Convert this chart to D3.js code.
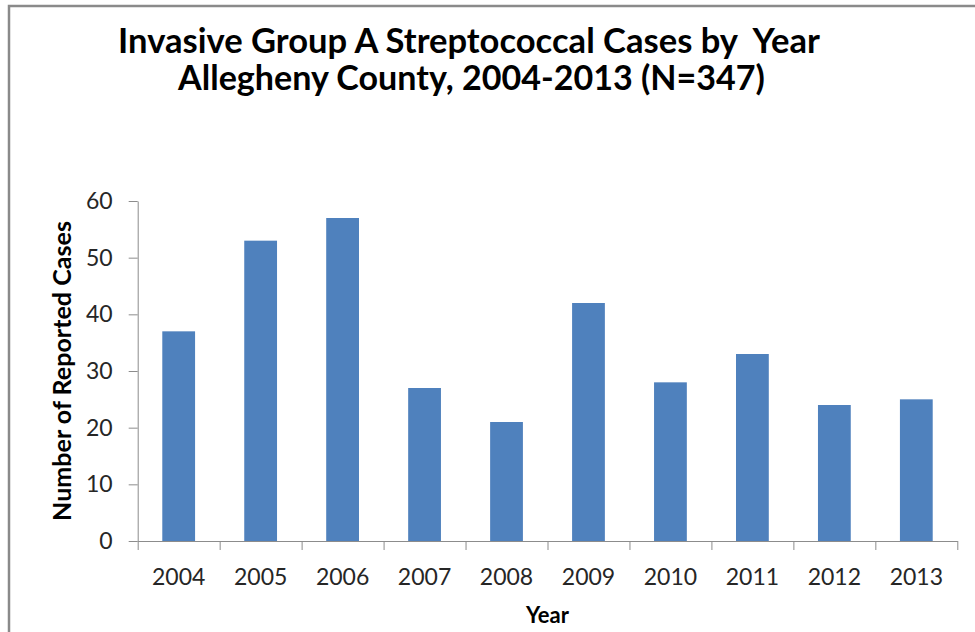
<!DOCTYPE html>
<html>
<head>
<meta charset="utf-8">
<script src="https://cdn.jsdelivr.net/npm/d3@7"></script>
<style>
  html, body { margin: 0; padding: 0; background: #fff; }
  svg { display: block; }
  text { font-family: Lato, "Open Sans", sans-serif; }
</style>
</head>
<body>
<svg id="chart" width="975" height="632"></svg>
<script>
const years = ["2004","2005","2006","2007","2008","2009","2010","2011","2012","2013"];
const cases = [37, 53, 57, 27, 21, 42, 28, 33, 24, 25];
const yTicks = [0, 10, 20, 30, 40, 50, 60];
const titleLines = ["Invasive Group A Streptococcal Cases by  Year", "Allegheny County, 2004-2013 (N=347)"];
const xTitle = "Year";
const yTitle = "Number of Reported Cases";

const svg = d3.select("#chart");
const W = 975, H = 632;
const margin = { left: 137.7, right: W - 957.3, top: 201, bottom: H - 541 };

svg.append("rect").attr("width", W).attr("height", H).attr("fill", "#fff");
// chart border
svg.append("rect")
  .attr("x", 9).attr("y", 6).attr("width", 1100).attr("height", 800)
  .attr("fill", "none").attr("stroke", "#8a8a8a").attr("stroke-width", 2.5);

const x0 = margin.left, x1 = W - margin.right;
const yTop = margin.top, yBot = H - margin.bottom;

const x = d3.scaleBand().domain(years).range([x0, x1]).paddingInner(0.6).paddingOuter(0.3);
const xEdges = d3.scaleLinear().domain([0, years.length]).range([x0, x1]);
const y = d3.scaleLinear().domain([0, 60]).range([yBot, yTop]);

// bars
svg.append("g").selectAll("rect").data(years).join("rect")
  .attr("x", d => x(d))
  .attr("width", x.bandwidth())
  .attr("y", (d, i) => y(cases[i]))
  .attr("height", (d, i) => yBot - y(cases[i]))
  .attr("fill", "#4f81bd");

const axisColor = "#8c8c8c";

// y axis
const gy = svg.append("g").attr("transform", `translate(${x0},0)`)
  .call(d3.axisLeft(y).tickValues(yTicks).tickSize(9).tickSizeOuter(0).tickPadding(16));
gy.select(".domain").attr("stroke", axisColor);
gy.selectAll(".tick line").attr("stroke", axisColor);
gy.selectAll(".tick text").attr("font-size", 23).attr("fill", "#262626")
  .attr("font-family", "Lato, sans-serif");

// x axis: tick marks at band edges
const gx = svg.append("g").attr("transform", `translate(0,${yBot})`)
  .call(d3.axisBottom(xEdges).ticks(years.length).tickSize(9).tickSizeOuter(0).tickFormat(""));
gx.select(".domain").attr("stroke", axisColor);
gx.selectAll(".tick line").attr("stroke", axisColor);

// x labels
const gxl = svg.append("g").attr("transform", `translate(0,${yBot})`)
  .call(d3.axisBottom(x).tickSize(0).tickPadding(0));
gxl.select(".domain").remove();
gxl.selectAll(".tick text").attr("y", 44).attr("dy", 0)
  .attr("font-size", 23).attr("fill", "#262626").attr("font-family", "Lato, sans-serif");

// axis titles
svg.append("text")
  .attr("x", (x0 + x1) / 2).attr("y", 623)
  .attr("text-anchor", "middle").attr("font-weight", "bold")
  .attr("font-size", 22).attr("fill", "#000")
  .text(xTitle);

const yt = svg.append("text")
  .attr("transform", `translate(71,${(yTop + yBot) / 2}) rotate(-90)`)
  .attr("text-anchor", "middle").attr("font-weight", "bold")
  .attr("font-size", 22).attr("fill", "#000")
  .text(yTitle);
{
  const len = yt.node().getComputedTextLength();
  yt.attr("font-size", 22 * 300 / len);
}

// title
const targets = [{ w: 702, cx: 469, base: 53 }, { w: 587, cx: 471.5, base: 90 }];
titleLines.forEach((t, i) => {
  const tx = svg.append("text")
    .attr("x", targets[i].cx).attr("y", targets[i].base)
    .attr("text-anchor", "middle").attr("font-weight", "bold")
    .attr("font-size", 30).attr("fill", "#000")
    .style("white-space", "pre")
    .attr("xml:space", "preserve")
    .text(t);
  const len = tx.node().getComputedTextLength();
  tx.attr("font-size", 30 * targets[i].w / len);
});
</script>
</body>
</html>
